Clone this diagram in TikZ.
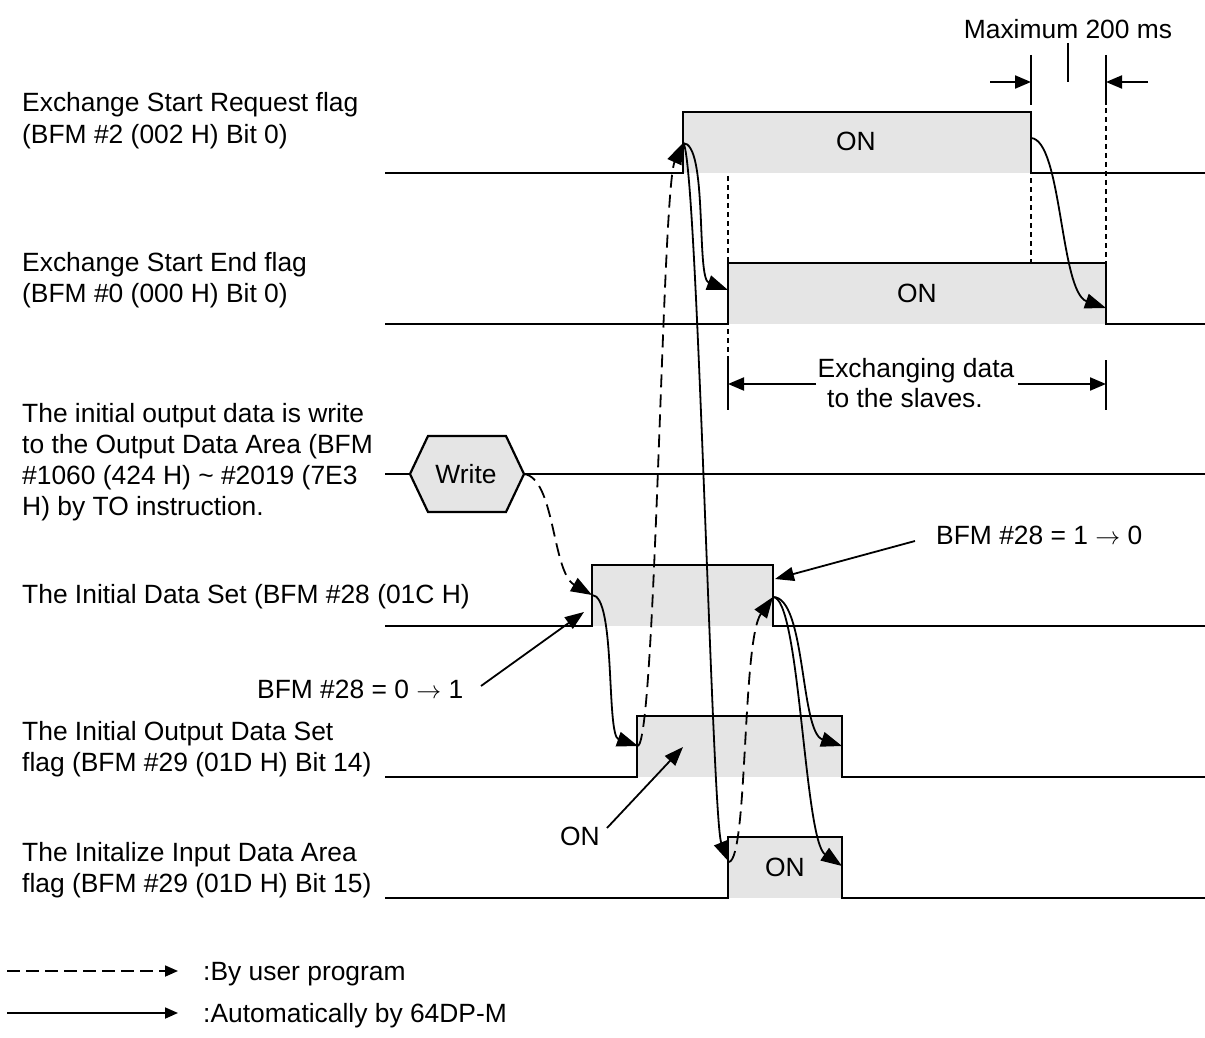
\documentclass[tikz,border=0pt]{standalone}
\usepackage{fontspec}
\setmainfont{Liberation Sans}
\usetikzlibrary{arrows.meta}
\definecolor{pulsegray}{HTML}{E5E5E5}
\begin{document}
\begin{tikzpicture}[x=1pt,y=-1pt,
  font=\fontsize{26.4}{31}\selectfont,
  sig/.style={line width=2.2pt, line join=miter},
  pulse/.style={fill=pulsegray},
  autoarrow/.style={line width=1.8pt, -{Triangle[length=21pt,width=15pt]}},
  userarrow/.style={autoarrow, dash pattern=on 13pt off 7pt},
  plainarrow/.style={line width=1.8pt, -{Triangle[length=19pt,width=14pt]}},
  dimarrow/.style={line width=2pt, -{Triangle[length=16pt,width=13pt]}},
  dotline/.style={line width=1.8pt, dash pattern=on 5pt off 4pt},
  tickline/.style={line width=1.1pt},
  lbl/.style={anchor=base west, inner sep=0pt},
  ctr/.style={anchor=base, inner sep=0pt}]
\useasboundingbox (0,0) rectangle (1205,1038);
\fill[white] (0,0) rectangle (1205,1038);

% ---------- key coordinates ----------
\coordinate (s1r) at (683,143);  \coordinate (s1f) at (1031,138);
\coordinate (s2r) at (728,290);  \coordinate (s2f) at (1106,308);
\coordinate (hexR) at (524,474);
\coordinate (s4r) at (592,595);  \coordinate (s4f) at (773,597);
\coordinate (s5r) at (638,746);  \coordinate (s5f) at (842,746);
\coordinate (s6r) at (729,862);  \coordinate (s6f) at (842,866);

% ---------- pulse fills ----------
\fill[pulse] (683,112) rectangle (1031,173);
\fill[pulse] (728,263) rectangle (1106,324);
\fill[pulse] (592,565) rectangle (773,626);
\fill[pulse] (637,716) rectangle (842,777);
\fill[pulse] (728,837) rectangle (842,898);

% ---------- dotted guides and ticks ----------
\draw[dotline] (728,176) -- (728,360);
\draw[dotline] (1031,178) -- (1031,263);
\draw[dotline] (1106,108) -- (1106,263);
\draw[tickline] (1031,55) -- (1031,105);
\draw[tickline] (1106,55) -- (1106,105);
\draw[tickline] (1068,43) -- (1068,82);
\draw[tickline] (728,360) -- (728,410);
\draw[tickline] (1106,360) -- (1106,410);

% ---------- signals ----------
\draw[sig] (385,173) -- (683,173) -- (683,112) -- (1031,112) -- (1031,173) -- (1205,173);
\draw[sig] (385,324) -- (728,324) -- (728,263) -- (1106,263) -- (1106,324) -- (1205,324);
\draw[sig] (385,474) -- (410,474);
\draw[sig] (524,474) -- (1205,474);
\draw[sig, fill=pulsegray] (410,474) -- (428,436) -- (506,436) -- (524,474) -- (506,512) -- (428,512) -- cycle;
\draw[sig] (385,626) -- (592,626) -- (592,565) -- (773,565) -- (773,626) -- (1205,626);
\draw[sig] (385,777) -- (637,777) -- (637,716) -- (842,716) -- (842,777) -- (1205,777);
\draw[sig] (385,898) -- (728,898) -- (728,837) -- (842,837) -- (842,898) -- (1205,898);

% ---------- dimension arrows ----------
\coordinate (mxL) at (990,82);  \coordinate (mxLt) at (1031,82);
\coordinate (mxR) at (1148,82); \coordinate (mxRt) at (1106,82);
\draw[dimarrow] (mxL) -- (mxLt);
\draw[dimarrow] (mxR) -- (mxRt);
\coordinate (exL) at (816,384); \coordinate (exLt) at (728,384);
\coordinate (exR) at (1018,384); \coordinate (exRt) at (1106,384);
\draw[dimarrow] (exL) -- (exLt);
\draw[dimarrow] (exR) -- (exRt);

% ---------- causal curves ----------
\draw[userarrow] (hexR) .. controls (555,478) and (552,572) .. (s4r);
\draw[autoarrow] (s4r) .. controls (616,595) and (606,735) .. (s5r);
\draw[userarrow] (s5r) .. controls (656,736) and (662,190) .. (s1r);
\draw[autoarrow] (s1r) .. controls (708,143) and (696,278) .. (s2r);
\draw[autoarrow] (s1r) .. controls (697,148) and (712,820) .. (s6r);
\draw[userarrow] (s6r) .. controls (748,858) and (742,640) .. (s4f);
\draw[autoarrow] (s4f) .. controls (806,597) and (800,732) .. (s5f);
\draw[autoarrow] (s4f) .. controls (800,597) and (804,840) .. (s6f);
\draw[autoarrow] (s1f) .. controls (1062,140) and (1060,292) .. (s2f);

% ---------- left labels ----------
\node[lbl] (l1a) at (22,112) {Exchange Start Request flag};
\node[lbl] (l1b) at (22,143) {(BFM \#2 (002 H) Bit 0)};
\node[lbl] (l2a) at (22,271) {Exchange Start End flag};
\node[lbl] (l2b) at (22,302) {(BFM \#0 (000 H) Bit 0)};
\node[lbl] (l3a) at (22,422) {The initial output data is write};
\node[lbl] (l3b) at (22,453) {to the Output Data Area (BFM};
\node[lbl] (l3c) at (22,484) {\#1060 (424 H) \textasciitilde{} \#2019 (7E3};
\node[lbl] (l3d) at (22,515) {H) by TO instruction.};
\node[lbl] (l4a) at (22,603) {The Initial Data Set (BFM \#28 (01C H)};
\node[lbl] (l5a) at (22,740) {The Initial Output Data Set};
\node[lbl] (l5b) at (22,771) {flag (BFM \#29 (01D H) Bit 14)};
\node[lbl] (l6a) at (22,861) {The Initalize Input Data Area};
\node[lbl] (l6b) at (22,892) {flag (BFM \#29 (01D H) Bit 15)};

% ---------- texts in diagram ----------
\node[ctr] (max) at (1068,39) {Maximum 200 ms};
\node[ctr] (on1) at (856,150) {ON};
\node[ctr] (on2) at (917,302) {ON};
\node[ctr] (ex1) at (916,377) {Exchanging data};
\node[ctr] (ex2) at (905,407) {to the slaves.};
\node[ctr] (write) at (466,483) {Write};
\node[lbl] (b10) at (936,544) {BFM \#28 = 1 $\rightarrow$ 0};
\node[lbl] (b01) at (257,698) {BFM \#28 = 0 $\rightarrow$ 1};
\node[ctr] (on5) at (580,845) {ON};
\node[ctr] (on6) at (785,876) {ON};

% ---------- pointer arrows ----------
\coordinate (p10a) at (915,541); \coordinate (p10b) at (775,579);
\draw[plainarrow] (p10a) -- (p10b);
\coordinate (p01a) at (481,686); \coordinate (p01b) at (584,612);
\draw[plainarrow] (p01a) -- (p01b);
\coordinate (ponA) at (607,828); \coordinate (ponB) at (683,747);
\draw[plainarrow] (ponA) -- (ponB);

% ---------- legend ----------
\coordinate (lgd1) at (7,971);  \coordinate (lgd2) at (178,971);
\coordinate (lgs1) at (7,1013); \coordinate (lgs2) at (178,1013);
\draw[line width=1.8pt, dash pattern=on 13pt off 6pt, -{Triangle[length=13pt,width=11pt]}] (lgd1) -- (lgd2);
\draw[line width=1.8pt, -{Triangle[length=13pt,width=11pt]}] (lgs1) -- (lgs2);
\node[lbl] (lg1) at (203,980) {:By user program};
\node[lbl] (lg2) at (203,1022) {:Automatically by 64DP-M};
\end{tikzpicture}
\end{document}
